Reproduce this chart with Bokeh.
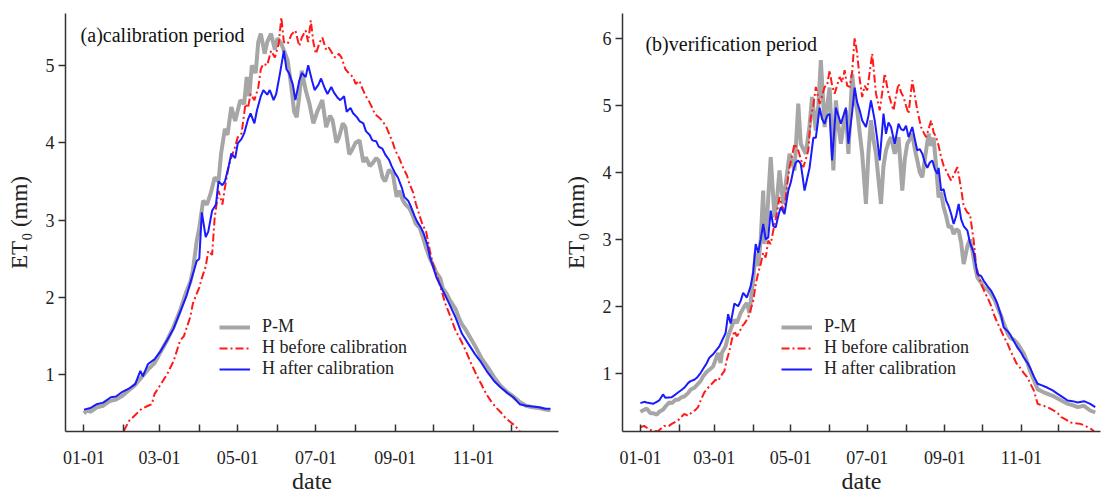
from bokeh.plotting import figure
from bokeh.layouts import row
from bokeh.models import FixedTicker, Legend, LegendItem, Label, Range1d
from bokeh.embed import file_html
from bokeh.resources import INLINE

# ---------------- data (day of year, ET0 mm) ----------------
month_starts = [0, 31, 59, 90, 120, 151, 181, 212, 243, 273, 304, 334]
month_labels = ["01-01", "", "03-01", "", "05-01", "", "07-01", "", "09-01", "", "11-01", ""]

# (a) calibration period
a_pm_day = [0, 3, 5, 10, 15, 20, 25, 30, 35, 40, 45, 50, 55, 60, 65, 70, 75, 80, 83, 85, 88, 90, 93, 96, 99, 102, 105, 107, 110, 112, 115, 118, 122, 125, 127, 129, 131, 134, 136, 138, 141, 143, 146, 149, 151, 154, 157, 159, 162, 164, 166, 168, 170, 173, 176, 179, 182, 186, 189, 192, 194, 197, 199, 202, 204, 207, 209, 212, 215, 218, 220, 223, 225, 228, 230, 233, 235, 238, 241, 244, 246, 249, 251, 254, 256, 259, 262, 265, 267, 270, 273, 275, 278, 280, 283, 285, 288, 290, 293, 295, 298, 300, 305, 310, 315, 320, 325, 330, 335, 340, 345, 350, 355, 360, 364]
a_pm_val = [0.5, 0.55, 0.52, 0.58, 0.6, 0.66, 0.68, 0.73, 0.8, 0.87, 0.97, 1.07, 1.15, 1.3, 1.45, 1.62, 1.83, 2.08, 2.2, 2.35, 2.73, 2.9, 3.25, 3.2, 3.35, 3.55, 3.5, 3.86, 4.18, 4.1, 4.46, 4.28, 4.55, 4.5, 4.85, 4.6, 5.0, 4.9, 5.3, 5.41, 5.15, 5.3, 5.41, 5.2, 5.35, 5.28, 5.15, 5.06, 4.7, 4.4, 4.33, 4.6, 4.93, 4.68, 4.5, 4.25, 4.4, 4.55, 4.2, 4.35, 4.29, 4.0, 4.07, 4.25, 4.2, 3.85, 3.9, 4.0, 4.03, 3.75, 3.81, 3.7, 3.73, 3.8, 3.77, 3.55, 3.5, 3.65, 3.6, 3.3, 3.38, 3.25, 3.2, 3.15, 3.08, 2.95, 2.9, 2.75, 2.64, 2.5, 2.4, 2.32, 2.25, 2.12, 2.05, 1.98, 1.9, 1.85, 1.72, 1.65, 1.58, 1.52, 1.38, 1.22, 1.1, 0.97, 0.86, 0.78, 0.72, 0.65, 0.6, 0.58, 0.57, 0.55, 0.54]

a_hb_day = [31, 35, 40, 45, 50, 53, 55, 60, 65, 70, 75, 78, 80, 83, 85, 88, 90, 92, 95, 97, 100, 102, 105, 108, 110, 113, 115, 118, 120, 123, 126, 128, 130, 133, 136, 138, 140, 143, 146, 149, 152, 154, 156, 159, 162, 165, 168, 170, 173, 175, 177, 179, 181, 184, 186, 189, 191, 194, 196, 199, 201, 204, 207, 210, 212, 215, 217, 220, 222, 225, 227, 230, 233, 236, 238, 241, 243, 246, 249, 252, 254, 257, 259, 262, 264, 267, 270, 272, 277, 282, 286, 290, 294, 298, 302, 306, 310, 314, 318, 322, 325, 329, 332, 335, 338, 340, 343]
a_hb_val = [0.27, 0.4, 0.48, 0.56, 0.6, 0.62, 0.75, 0.88, 1.01, 1.18, 1.44, 1.5, 1.6, 1.75, 1.92, 2.05, 2.13, 2.25, 2.4, 2.6, 2.55, 3.03, 3.38, 3.2, 3.42, 3.7, 3.81, 3.95, 4.07, 4.12, 4.5, 4.45, 4.63, 4.55, 4.71, 4.95, 5.02, 5.0, 5.19, 5.1, 5.28, 5.62, 5.3, 5.28, 5.4, 5.45, 5.25, 5.36, 5.45, 5.3, 5.58, 5.3, 5.15, 5.3, 5.36, 5.2, 5.23, 5.15, 5.1, 5.15, 5.1, 4.95, 4.89, 4.85, 4.76, 4.8, 4.71, 4.6, 4.55, 4.45, 4.37, 4.33, 4.28, 4.2, 4.12, 4.0, 3.9, 3.8, 3.68, 3.58, 3.47, 3.35, 3.21, 3.05, 2.95, 2.85, 2.6, 2.45, 2.2, 1.92, 1.75, 1.57, 1.45, 1.31, 1.15, 1.01, 0.88, 0.75, 0.65, 0.57, 0.52, 0.44, 0.4, 0.36, 0.31, 0.27, 0.24]

a_ha_day = [0, 5, 10, 15, 21, 25, 30, 35, 40, 44, 46, 50, 55, 60, 65, 70, 75, 80, 85, 88, 90, 92, 95, 97, 100, 103, 105, 108, 110, 113, 115, 118, 120, 123, 125, 128, 130, 133, 135, 138, 140, 143, 145, 148, 150, 153, 156, 158, 160, 163, 165, 168, 170, 173, 175, 178, 180, 183, 185, 188, 190, 193, 195, 198, 200, 203, 205, 208, 210, 213, 215, 218, 220, 223, 225, 228, 230, 233, 235, 238, 240, 243, 245, 248, 250, 253, 255, 258, 260, 263, 265, 268, 270, 275, 280, 285, 290, 295, 300, 305, 310, 315, 320, 325, 330, 335, 340, 345, 350, 355, 360, 364]
a_ha_val = [0.55, 0.57, 0.62, 0.64, 0.71, 0.72, 0.78, 0.82, 0.88, 1.05, 0.98, 1.14, 1.2, 1.31, 1.45, 1.6, 1.81, 2.02, 2.3, 2.47, 2.5, 3.1, 2.78, 2.85, 3.12, 3.2, 3.5, 3.45, 3.5, 3.7, 3.86, 3.8, 3.99, 4.05, 4.12, 4.3, 4.38, 4.25, 4.42, 4.6, 4.68, 4.62, 4.68, 4.55, 4.63, 4.9, 5.19, 4.95, 4.9, 4.75, 4.55, 4.8, 4.9, 4.85, 5.0, 4.8, 4.68, 4.75, 4.83, 4.7, 4.63, 4.72, 4.65, 4.58, 4.55, 4.6, 4.4, 4.45, 4.38, 4.33, 4.28, 4.25, 4.15, 4.1, 4.03, 4.02, 3.95, 3.92, 3.85, 3.78, 3.7, 3.6, 3.55, 3.42, 3.3, 3.25, 3.18, 3.05, 2.98, 2.9, 2.83, 2.68, 2.52, 2.26, 2.09, 1.92, 1.74, 1.53, 1.4, 1.27, 1.16, 1.03, 0.92, 0.84, 0.77, 0.71, 0.62, 0.6, 0.59, 0.58, 0.56, 0.56]

# (b) verification period
b_pm_day = [0, 3, 5, 8, 10, 13, 15, 18, 20, 23, 25, 28, 30, 33, 35, 38, 40, 43, 45, 48, 50, 53, 55, 58, 60, 62, 64, 65, 68, 70, 73, 75, 77, 80, 83, 85, 87, 90, 92, 94, 96, 98, 99, 101, 104, 107, 109, 111, 114, 116, 119, 121, 123, 126, 128, 130, 132, 135, 137, 140, 142, 144, 147, 149, 151, 154, 156, 158, 160, 162, 164, 166, 169, 171, 173, 175, 177, 180, 182, 184, 186, 188, 190, 192, 194, 196, 198, 200, 203, 206, 209, 211, 213, 215, 217, 219, 221, 223, 225, 228, 230, 232, 234, 236, 238, 240, 242, 244, 246, 248, 250, 252, 254, 256, 258, 261, 263, 265, 267, 269, 272, 274, 277, 280, 283, 285, 288, 290, 293, 295, 298, 301, 304, 306, 309, 311, 314, 317, 321, 325, 329, 333, 337, 341, 345, 349, 354, 359, 363]
b_pm_val = [0.42, 0.45, 0.47, 0.4, 0.4, 0.38, 0.42, 0.45, 0.5, 0.56, 0.55, 0.6, 0.6, 0.64, 0.65, 0.7, 0.75, 0.78, 0.82, 0.88, 0.95, 1.02, 1.05, 1.1, 1.2, 1.3, 1.15, 1.3, 1.4, 1.55, 1.7, 1.8, 1.75, 1.9, 2.0, 2.05, 1.9, 2.4, 2.8, 2.6, 3.0, 3.73, 2.93, 3.3, 4.23, 3.33, 3.6, 4.03, 3.53, 3.83, 4.28, 4.15, 4.03, 5.03, 4.43, 4.35, 4.28, 4.7, 5.13, 4.63, 5.0, 5.68, 4.68, 5.0, 5.27, 4.03, 5.08, 4.7, 4.43, 4.7, 4.93, 4.28, 5.47, 5.1, 4.93, 4.6, 4.28, 3.53, 4.3, 4.78, 4.5, 4.28, 3.9, 3.53, 4.1, 4.33, 4.45, 4.53, 4.28, 4.53, 3.73, 4.2, 4.43, 4.5, 4.58, 4.35, 4.18, 4.0, 3.93, 4.33, 4.58, 4.4, 4.52, 4.1, 3.63, 3.7, 3.48, 3.35, 3.18, 3.2, 3.08, 3.15, 3.13, 2.95, 2.63, 2.9, 3.0, 2.83, 2.6, 2.43, 2.35, 2.28, 2.25, 2.18, 2.08, 1.98, 1.85, 1.74, 1.6, 1.53, 1.5, 1.44, 1.35, 1.29, 1.15, 1.03, 0.9, 0.76, 0.72, 0.69, 0.66, 0.62, 0.58, 0.54, 0.52, 0.49, 0.51, 0.44, 0.41]

b_hb_day = [0, 3, 6, 9, 14, 19, 22, 25, 28, 30, 33, 35, 38, 41, 44, 46, 49, 51, 54, 57, 60, 62, 65, 67, 69, 71, 73, 75, 77, 79, 81, 83, 86, 88, 90, 92, 94, 96, 98, 100, 102, 104, 106, 108, 111, 113, 115, 117, 119, 121, 123, 126, 128, 130, 132, 134, 136, 138, 140, 143, 145, 147, 149, 151, 153, 155, 157, 159, 161, 163, 165, 167, 169, 171, 173, 175, 177, 179, 181, 183, 185, 188, 191, 193, 195, 198, 200, 202, 204, 206, 208, 210, 212, 214, 217, 219, 221, 224, 226, 228, 230, 232, 234, 236, 238, 240, 242, 244, 246, 248, 251, 253, 256, 258, 261, 263, 266, 268, 270, 272, 275, 277, 280, 282, 285, 288, 290, 293, 295, 298, 300, 303, 306, 309, 311, 314, 317, 320, 322, 326, 330, 333, 336, 340, 343, 347, 351, 354, 357, 360, 362]
b_hb_val = [0.19, 0.21, 0.17, 0.14, 0.13, 0.21, 0.2, 0.24, 0.27, 0.29, 0.35, 0.39, 0.36, 0.41, 0.45, 0.49, 0.63, 0.71, 0.78, 0.84, 0.9, 0.88, 0.98, 1.03, 1.2, 1.33, 1.5, 1.63, 1.55, 1.61, 1.7, 1.74, 1.83, 1.95, 2.08, 2.33, 2.5, 2.63, 2.8, 2.73, 2.98, 2.93, 3.13, 3.3, 3.63, 3.5, 3.43, 3.8, 4.08, 4.25, 4.43, 4.33, 4.2, 4.08, 4.2, 4.33, 4.83, 5.0, 5.28, 5.03, 5.15, 5.28, 5.3, 5.53, 5.3, 5.18, 5.3, 5.43, 5.35, 5.53, 5.3, 5.28, 5.5, 6.02, 5.78, 5.4, 5.13, 5.3, 5.23, 5.5, 5.78, 5.18, 4.93, 5.2, 5.48, 5.18, 5.05, 4.93, 5.15, 5.33, 5.2, 5.13, 5.0, 4.88, 5.38, 5.15, 4.93, 4.68, 4.6, 4.53, 4.65, 4.78, 4.6, 4.53, 4.4, 4.23, 4.1, 4.03, 3.95, 3.88, 4.0, 4.08, 3.75, 3.5, 3.4, 3.38, 2.98, 2.6, 2.45, 2.33, 2.2, 2.13, 2.0, 1.88, 1.75, 1.63, 1.55, 1.44, 1.35, 1.23, 1.15, 1.08, 1.0, 0.93, 0.85, 0.74, 0.54, 0.52, 0.51, 0.48, 0.44, 0.4, 0.34, 0.3, 0.26, 0.25, 0.24, 0.22, 0.19, 0.16, 0.13]

b_ha_day = [0, 3, 5, 8, 10, 13, 15, 18, 20, 25, 28, 30, 33, 35, 38, 40, 43, 45, 48, 50, 53, 55, 58, 60, 63, 65, 68, 70, 72, 75, 78, 80, 82, 85, 88, 90, 92, 94, 96, 98, 100, 102, 104, 106, 108, 110, 112, 115, 118, 120, 122, 124, 126, 128, 131, 133, 135, 138, 140, 143, 145, 147, 149, 151, 153, 156, 158, 160, 162, 164, 166, 169, 171, 173, 175, 177, 180, 182, 184, 187, 189, 191, 194, 196, 198, 200, 203, 206, 208, 210, 212, 214, 217, 219, 221, 223, 225, 227, 229, 231, 233, 235, 237, 238, 240, 242, 244, 246, 248, 250, 252, 254, 256, 258, 261, 263, 266, 269, 272, 274, 277, 280, 283, 285, 288, 290, 293, 295, 298, 301, 304, 306, 309, 311, 314, 317, 320, 325, 329, 333, 337, 341, 345, 349, 354, 359, 363]
b_ha_val = [0.55, 0.57, 0.56, 0.55, 0.54, 0.57, 0.59, 0.68, 0.63, 0.64, 0.68, 0.71, 0.75, 0.78, 0.85, 0.88, 0.9, 0.93, 1.0, 1.06, 1.15, 1.23, 1.28, 1.33, 1.4, 1.48, 1.6, 1.88, 1.74, 2.04, 2.0, 2.08, 2.2, 2.13, 2.3, 2.5, 2.93, 2.8, 3.0, 3.23, 3.0, 3.03, 3.43, 3.2, 3.18, 3.35, 3.48, 3.38, 3.73, 3.85, 4.03, 4.15, 4.18, 4.13, 3.73, 3.9, 4.07, 4.52, 4.52, 4.97, 4.8, 4.73, 4.85, 4.88, 4.18, 4.97, 4.85, 4.73, 4.85, 4.97, 4.43, 4.9, 5.27, 5.05, 4.93, 4.78, 4.68, 4.85, 5.08, 4.78, 4.5, 4.18, 4.88, 4.58, 4.75, 4.68, 4.43, 4.73, 4.65, 4.63, 4.7, 4.53, 4.68, 4.5, 4.33, 4.35, 4.28, 4.15, 4.07, 4.15, 4.18, 4.05, 3.98, 4.07, 3.73, 3.75, 3.58, 3.5, 3.38, 3.23, 3.35, 3.53, 3.3, 3.2, 3.13, 2.95, 2.8, 2.48, 2.45, 2.38, 2.3, 2.23, 2.12, 2.03, 1.85, 1.68, 1.63, 1.58, 1.48, 1.38, 1.3, 1.23, 1.15, 1.08, 0.95, 0.84, 0.82, 0.78, 0.74, 0.69, 0.64, 0.59, 0.58, 0.56, 0.58, 0.54, 0.49]

legend_names = ["P-M", "H before calibration", "H after calibration"]
titles = ["(a)calibration period", "(b)verification period"]

# ---------------- styling ----------------
SERIF = "Liberation Serif"
C_PM = "#a6a6a6"
C_HB = "#ff1a1a"
C_HA = "#1a1aff"
AX = "#333333"


def make_panel(width, xr, yr, yticks, pm, hb, ha, title, title_xy, leg_loc, border_left):
    p = figure(width=width, height=497, output_backend="svg", toolbar_location=None,
               x_range=Range1d(*xr), y_range=Range1d(*yr),
               min_border_left=border_left, min_border_right=2,
               min_border_top=13, min_border_bottom=66)
    p.outline_line_color = None
    p.xgrid.grid_line_color = None
    p.ygrid.grid_line_color = None
    p.background_fill_color = "white"
    p.border_fill_color = "white"

    r1 = p.line(pm[0], pm[1], line_color=C_PM, line_width=4)
    r2 = p.line(hb[0], hb[1], line_color=C_HB, line_width=2, line_dash="8 3 2 3")
    r3 = p.line(ha[0], ha[1], line_color=C_HA, line_width=2)

    xa = p.xaxis[0]
    xa.ticker = FixedTicker(ticks=month_starts)
    xa.major_label_overrides = {m: l for m, l in zip(month_starts, month_labels)}
    xa.major_tick_in = 7
    xa.major_tick_out = 0
    xa.minor_tick_line_color = None
    xa.major_label_standoff = 19
    xa.axis_label = "date"
    xa.axis_label_standoff = 1

    ya = p.yaxis[0]
    ya.ticker = FixedTicker(ticks=yticks)
    ya.major_tick_in = 0
    ya.major_tick_out = 7
    ya.minor_tick_line_color = None
    ya.major_label_standoff = 4
    ya.axis_label = "ET\u2080 (mm)"
    ya.axis_label_standoff = 11

    for ax in (xa, ya):
        ax.axis_line_color = AX
        ax.axis_line_width = 1.5
        ax.major_tick_line_color = AX
        ax.major_tick_line_width = 1.5
        ax.major_label_text_font = SERIF
        ax.major_label_text_font_size = "18px"
        ax.major_label_text_color = "#222222"
        ax.axis_label_text_font = SERIF
        ax.axis_label_text_font_style = "normal"
        ax.axis_label_text_color = "#222222"
    xa.axis_label_text_font_size = "24px"
    ya.axis_label_text_font_size = "23px"

    lab = Label(x=title_xy[0], y=title_xy[1], text=title, text_font=SERIF,
                text_font_size="20px", text_color="#111111", text_baseline="middle")
    p.add_layout(lab)

    leg = Legend(items=[LegendItem(label=legend_names[0], renderers=[r1]),
                        LegendItem(label=legend_names[1], renderers=[r2]),
                        LegendItem(label=legend_names[2], renderers=[r3])],
                 location=leg_loc)
    leg.margin = 0
    leg.padding = 0
    leg.spacing = -1
    leg.border_line_color = None
    leg.background_fill_alpha = 0
    leg.glyph_width = 31
    leg.glyph_height = 20
    leg.label_height = 20
    leg.label_standoff = 12
    leg.label_text_font = SERIF
    leg.label_text_font_size = "18px"
    leg.label_text_color = "#222222"
    p.add_layout(leg)
    return p


pa = make_panel(560, (-14.4, 370.3), (0.267, 5.67), [1, 2, 3, 4, 5],
                (a_pm_day, a_pm_val), (a_hb_day, a_hb_val), (a_ha_day, a_ha_val),
                titles[0], (-2.6, 5.386), (154, 52), 65)
pb = make_panel(542, (-14.3, 367.2), (0.126, 6.379), [1, 2, 3, 4, 5, 6],
                (b_pm_day, b_pm_val), (b_hb_day, b_hb_val), (b_ha_day, b_ha_val),
                titles[1], (4.0, 5.93), (159, 52), 61)

layout = row(pa, pb, spacing=0)
open("out.html", "w").write(file_html(layout, INLINE))
